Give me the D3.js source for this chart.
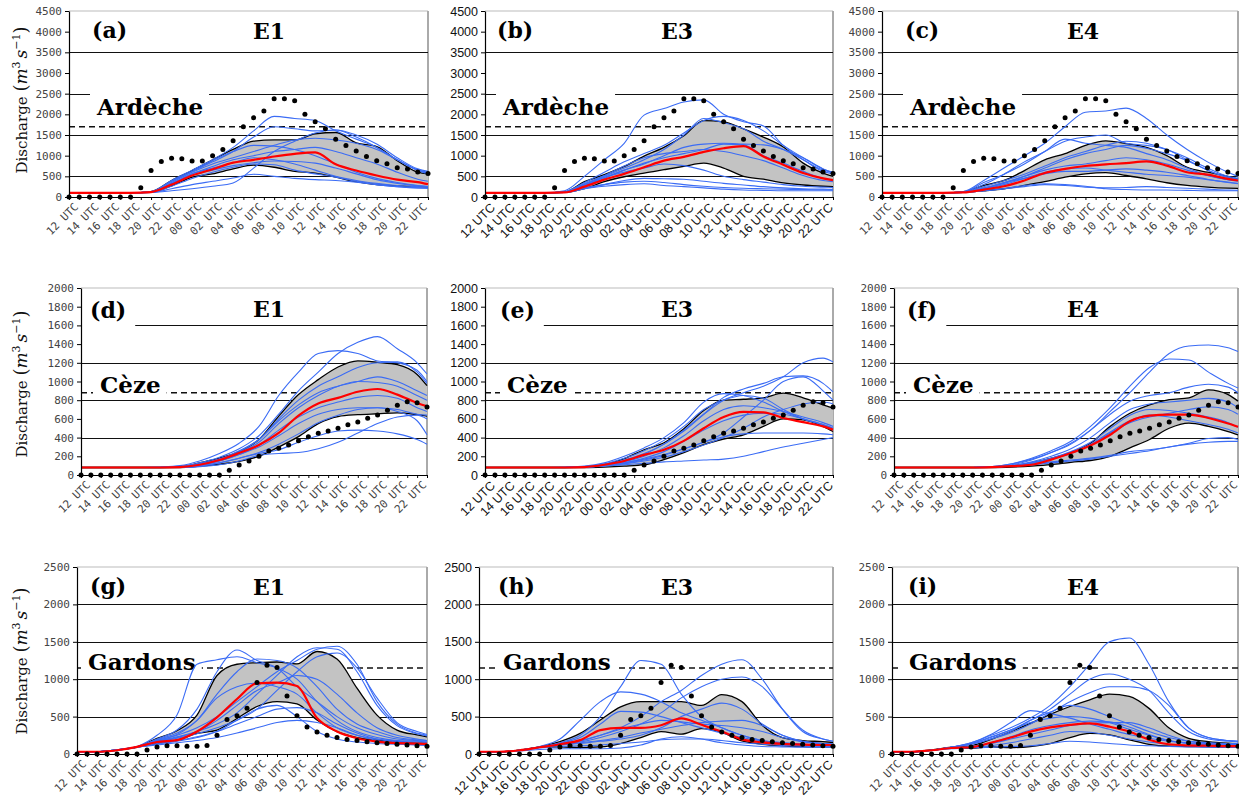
<!DOCTYPE html>
<html>
<head>
<meta charset="utf-8">
<script src="https://cdn.jsdelivr.net/npm/d3@7"></script>
<style>
  body { margin: 0; background: #fff; }
  svg { display: block; }
</style>
</head>
<body>
<div id="root"></div>
<script>
// hour index 0 = 12 UTC day 1, 35 = 23 UTC day 2
const tickLabels = ["12 UTC","14 UTC","16 UTC","18 UTC","20 UTC","22 UTC","00 UTC","02 UTC","04 UTC",
  "06 UTC","08 UTC","10 UTC","12 UTC","14 UTC","16 UTC","18 UTC","20 UTC","22 UTC"];
const simHours = [0,2,4,6,8,10,12,14,16,18,20,22,24,26,28,30,32,34,35];

// observed discharge, hourly
const obsArdeche = [0,0,0,0,0,0,0,225,640,860,940,925,870,870,1000,1150,1360,1700,1920,2080,2380,2380,2330,2000,1820,1650,1400,1245,1110,980,875,805,710,675,605,570];
const obsCeze = [0,0,0,0,0,0,0,0,0,0,0,0,0,0,0,50,107,150,200,257,285,321,367,410,446,470,499,538,567,606,642,692,745,784,774,727];
const obsGardons = [0,0,0,0,0,0,0,55,95,110,110,105,105,115,250,460,510,610,955,1185,1155,775,510,360,295,250,220,195,180,165,150,140,130,120,110,105];

const yTicksArdeche = [0,500,1000,1500,2000,2500,3000,3500,4000,4500];
const yTicksCeze = [0,200,400,600,800,1000,1200,1400,1600,1800,2000];
const yTicksGardons = [0,500,1000,1500,2000,2500];
const gridArdeche = [500,1500,2500,3500];
const gridCeze = [400,800,1200,1600];
const gridGardons = [500,1000,1500,2000];

// (a) E1 Ardeche
const aHi  = [100,100,100,100,130,400,640,900,1150,1350,1380,1380,1530,1560,1310,1220,880,600,560];
const aLo  = [100,100,100,100,110,270,480,560,680,770,720,620,580,480,370,300,270,250,240];
const aMed = [100,100,100,100,120,300,520,670,830,900,980,1045,1080,790,640,520,420,360,310];
const aMembers = [
  [100,100,100,100,130,400,650,900,1200,1600,1950,1900,1850,1600,1400,1200,900,650,600],
  [100,100,100,100,130,380,620,850,1100,1450,1700,1650,1600,1620,1500,1280,950,680,620],
  [100,100,100,100,110,150,200,260,340,700,1100,1350,1550,1620,1450,1200,900,650,560],
  [100,100,100,100,130,380,620,880,1100,1250,1230,1150,1000,800,600,450,350,280,250],
  [100,100,100,100,120,320,560,700,830,950,900,800,650,500,400,330,280,250,240],
  [100,100,100,100,110,200,300,380,460,550,500,450,420,400,360,300,250,220,210],
  [100,100,100,100,120,350,600,800,950,1100,1250,1380,1420,1380,1300,1150,900,650,580],
  [100,100,100,100,120,330,560,740,900,1000,1100,1150,1200,1100,950,800,600,430,380],
  [100,100,100,100,110,260,450,600,720,800,780,650,560,480,380,300,250,220,210],
  [100,100,100,100,120,300,520,650,760,830,870,860,820,700,560,420,330,270,250]
];

// (b) E3 Ardeche
const bHi  = [100,100,100,100,120,370,540,740,990,1200,1480,1850,1820,1650,1450,1210,820,580,500];
const bLo  = [100,100,100,100,110,200,370,490,580,660,740,820,700,500,430,340,290,260,250];
const bMed = [100,100,100,100,110,250,420,560,720,880,970,1090,1180,1230,980,780,580,450,410];
const bMembers = [
  [100,100,100,100,150,500,900,1300,1980,2140,2300,2350,2000,1820,1720,1250,900,650,600],
  [100,100,100,100,130,350,600,850,1050,1250,1550,1850,1950,1850,1600,1250,950,680,600],
  [100,100,100,100,120,300,500,700,900,1150,1500,1900,1800,1650,1350,1150,900,620,560],
  [100,100,100,100,120,280,450,650,800,1000,1200,1280,1300,1280,1260,1150,950,680,580],
  [100,100,100,100,120,320,520,750,950,1050,1100,1150,1100,1000,880,700,520,400,370],
  [100,100,100,100,110,200,300,400,450,440,430,380,330,290,250,220,200,190,185],
  [100,100,100,100,110,200,260,300,320,280,250,220,190,170,160,150,150,150,150],
  [100,100,100,100,120,300,480,600,700,800,760,650,500,420,360,300,260,240,230],
  [100,100,100,100,120,280,470,650,820,950,1050,1150,1280,1260,1000,820,620,450,400],
  [100,100,100,100,110,220,300,360,380,350,300,260,230,210,200,190,180,175,170]
];

// (c) E4 Ardeche
const cHi  = [100,100,100,100,130,280,400,640,900,1050,1250,1360,1290,1200,1000,720,600,500,440];
const cLo  = [100,100,100,100,110,150,200,280,370,480,560,590,520,440,345,280,240,215,210];
const cMed = [100,100,100,100,110,180,260,400,580,680,750,790,820,860,760,600,540,440,400];
const cMembers = [
  [100,100,100,100,130,400,700,1000,1300,1700,2050,2080,2150,1900,1500,1150,850,600,500],
  [100,100,100,100,120,300,550,850,1100,1350,1450,1500,1300,1250,1150,900,650,480,430],
  [100,100,100,100,120,350,550,800,1100,1400,1300,1250,1200,1050,900,700,520,420,400],
  [100,100,100,100,120,250,400,550,750,950,1100,1250,1350,1300,1150,950,700,500,450],
  [100,100,100,100,110,200,350,500,650,750,800,880,950,900,800,650,520,420,380],
  [100,100,100,100,110,150,200,250,300,280,240,220,230,250,230,210,190,170,165],
  [100,100,100,100,110,150,200,280,320,300,260,200,180,170,170,160,150,150,150],
  [100,100,100,100,110,180,300,450,600,680,700,650,600,550,520,480,420,360,330],
  [100,100,100,100,110,200,330,500,700,900,1050,1150,1250,1180,1050,880,650,470,420],
  [100,100,100,100,120,220,350,450,560,620,620,650,680,650,600,520,430,350,320]
];

// (d) E1 Ceze
const dHi  = [80,80,80,80,80,85,130,180,250,380,630,860,1020,1155,1220,1205,1180,1075,955];
const dLo  = [80,80,80,80,80,80,95,115,145,200,300,410,550,625,645,655,665,645,630];
const dMed = [80,80,80,80,80,85,110,160,235,320,450,635,765,825,890,920,860,770,735];
const dMembers = [
  [80,80,80,80,80,90,130,190,280,420,650,900,1100,1300,1420,1480,1350,1200,1080],
  [80,80,80,80,85,100,150,230,340,520,850,1100,1300,1330,1300,1220,1200,1120,1000],
  [80,80,80,80,80,90,120,170,250,380,600,800,950,1050,1150,1200,1210,1100,980],
  [80,80,80,80,80,85,110,160,240,350,550,720,850,950,1000,990,950,850,800],
  [80,80,80,80,80,85,105,150,220,320,480,620,720,780,830,850,820,720,680],
  [80,80,80,80,80,85,100,130,180,230,270,350,420,470,480,470,440,380,330],
  [80,80,80,80,80,80,90,110,150,210,230,240,280,350,450,550,620,640,600],
  [80,80,80,80,80,85,105,150,220,300,420,550,650,700,720,720,700,650,640],
  [80,80,80,80,80,85,110,170,260,380,580,750,880,950,1000,1050,1000,900,850],
  [80,80,80,80,80,80,95,130,180,240,330,440,560,640,700,720,680,580,430]
];

// (e) E3 Ceze
const eHi  = [80,80,80,80,80,85,110,175,270,345,495,690,800,810,825,875,825,750,715];
const eLo  = [80,80,80,80,80,80,85,95,110,165,240,325,385,430,520,600,590,520,465];
const eMed = [80,80,80,80,80,85,110,150,215,270,365,500,620,675,670,610,565,520,485];
const eMembers = [
  [80,80,80,80,80,90,110,160,230,330,480,650,800,880,950,1050,1200,1250,1210],
  [80,80,80,80,80,85,110,150,220,330,470,650,830,920,980,1050,1060,980,890],
  [80,80,80,80,85,95,130,200,290,400,560,780,870,850,780,680,600,540,500],
  [80,80,80,80,80,85,100,120,150,190,250,320,400,500,620,700,760,780,760],
  [80,80,80,80,80,85,95,110,125,140,150,160,170,200,250,300,340,380,400],
  [80,80,80,80,80,85,100,130,170,220,280,350,410,440,450,450,450,440,430],
  [80,80,80,80,80,90,120,180,260,370,520,700,800,850,820,700,600,530,480],
  [80,80,80,80,80,85,100,120,160,210,280,350,450,620,800,1000,1050,900,800],
  [80,80,80,80,80,85,105,140,200,290,420,580,700,740,720,680,620,560,520],
  [80,80,80,80,80,85,100,130,180,250,360,480,580,640,660,650,600,540,500]
];

// (f) E4 Ceze
const fHi  = [80,80,80,80,80,85,95,130,180,240,340,520,660,750,805,825,910,860,790];
const fLo  = [80,80,80,80,80,80,85,95,110,135,155,200,290,380,500,555,520,465,430];
const fMed = [80,80,80,80,80,85,95,110,165,235,315,430,575,635,645,645,610,550,515];
const fMembers = [
  [80,80,80,80,80,90,120,170,240,330,480,680,880,1100,1300,1380,1390,1360,1320],
  [80,80,80,80,80,90,120,180,260,360,520,720,950,1150,1240,1230,1100,980,930],
  [80,80,80,80,80,85,110,160,240,340,480,650,790,850,880,940,970,940,880],
  [80,80,80,80,80,85,100,130,180,250,350,500,640,700,690,660,620,560,510],
  [80,80,80,80,80,85,100,120,140,160,180,210,250,270,300,340,390,400,380],
  [80,80,80,80,80,85,95,110,130,150,170,200,230,260,300,330,350,360,360],
  [80,80,80,80,80,85,100,130,170,230,320,450,560,620,660,700,730,700,650],
  [80,80,80,80,80,85,100,140,200,280,400,560,700,760,780,800,820,780,720],
  [80,80,80,80,80,85,100,130,180,240,330,460,580,640,620,580,540,490,450]
];

// (g) E1 Gardons
const gHi  = [30,30,55,95,210,310,520,1050,1200,1220,1230,1205,1370,1270,880,520,320,255,230];
const gLo  = [30,30,50,90,140,185,275,320,475,635,700,670,455,300,220,185,165,145,145];
const gMed = [30,30,50,95,160,185,300,490,735,945,955,910,480,300,210,165,145,140,135];
const gMembers = [
  [30,30,55,100,250,520,1200,1260,1300,1220,1150,1000,700,450,300,220,180,170,160],
  [30,30,55,95,200,320,600,1100,1390,1250,1150,900,700,500,350,260,200,180,170],
  [30,30,55,95,180,250,350,500,700,900,1100,1250,1400,1440,1200,700,400,280,250],
  [30,30,55,95,170,230,300,400,550,800,1050,1300,1420,1400,1100,650,380,270,240],
  [30,30,55,95,190,280,450,800,1100,1270,1250,1150,900,600,400,300,220,190,180],
  [30,30,50,90,120,150,180,220,280,350,420,450,420,350,250,180,140,120,115],
  [30,30,50,90,130,170,220,300,450,600,650,500,300,200,160,140,130,125,120],
  [30,30,55,95,170,220,300,450,650,850,950,1050,1000,800,550,350,250,200,180],
  [30,30,55,95,180,260,450,750,900,950,900,800,550,350,250,200,170,160,150],
  [30,30,50,90,140,180,230,300,400,500,600,620,550,400,280,200,160,140,130],
  [30,30,55,95,160,210,270,350,450,600,850,1100,1300,1350,1150,750,420,300,260]
];

// (h) E3 Gardons
const hHi  = [30,30,50,95,165,275,455,630,700,700,700,650,795,700,385,220,180,165,155];
const hLo  = [30,30,50,90,95,85,95,140,220,300,265,340,290,175,130,110,100,95,95];
const hMed = [30,30,50,90,130,185,320,350,350,385,475,390,300,195,155,135,125,120,120];
const hMembers = [
  [30,30,50,90,150,250,500,900,1250,1200,800,500,350,250,180,150,130,120,115],
  [30,30,50,90,130,170,250,350,500,700,850,1050,1200,1260,1000,600,300,200,170],
  [30,30,50,90,130,160,220,300,400,550,750,900,1000,1030,900,600,320,200,170],
  [30,30,50,100,200,450,700,830,800,700,550,450,350,250,180,150,130,125,120],
  [30,30,50,90,120,140,170,200,250,350,500,600,680,600,400,250,170,140,130],
  [30,30,50,90,140,220,400,570,560,500,420,350,280,220,170,140,130,125,120],
  [30,30,50,80,100,110,120,140,160,190,200,200,180,150,130,115,105,100,100],
  [30,30,40,60,70,70,70,80,120,200,230,200,150,120,100,95,90,90,90],
  [30,30,50,90,120,150,180,220,280,330,380,420,440,450,380,250,170,140,130],
  [30,30,50,90,130,180,250,330,400,450,430,400,380,350,300,220,160,140,130]
];

// (i) E4 Gardons
const iHi  = [30,30,55,90,110,195,300,410,530,635,725,800,770,610,350,210,165,145,140];
const iLo  = [30,30,50,80,75,95,85,100,140,220,275,255,190,130,105,100,95,90,90];
const iMed = [30,30,50,80,90,150,220,300,355,390,410,365,300,190,130,115,110,105,105];
const iMembers = [
  [30,30,50,90,150,250,350,480,650,900,1200,1500,1550,1200,700,350,220,180,170],
  [30,30,50,90,140,230,320,450,600,800,1000,1070,1000,850,550,300,200,170,160],
  [30,30,50,90,130,200,280,400,550,700,820,900,900,850,650,350,220,180,170],
  [30,30,50,90,150,260,420,580,540,480,400,330,260,210,170,150,140,130,130],
  [30,30,50,90,130,200,300,450,560,650,600,500,400,300,220,170,150,140,140],
  [30,30,50,70,80,90,100,110,140,170,160,140,120,110,100,95,90,90,90],
  [30,30,50,80,90,110,150,200,250,300,290,250,200,160,130,110,100,95,95],
  [30,30,50,80,100,140,200,260,320,380,410,420,420,350,250,170,140,130,125],
  [30,30,50,80,100,150,230,320,380,420,440,430,360,260,180,140,120,115,110],
  [30,30,50,90,140,220,320,420,480,500,480,420,330,250,180,140,125,120,115]
];

const rows = [
  { top: 11, bottom: 197, ymax: 4500, ticks: yTicksArdeche, grid: gridArdeche, threshold: 1700,
    river: "Ardèche", obs: obsArdeche, letterY: 38, titleY: 39, riverY: 115, yTitleY: 100 },
  { top: 288, bottom: 475, ymax: 2000, ticks: yTicksCeze, grid: gridCeze, threshold: 880,
    river: "Cèze", obs: obsCeze, letterY: 318, titleY: 317, riverY: 393, yTitleY: 384 },
  { top: 567, bottom: 754, ymax: 2500, ticks: yTicksGardons, grid: gridGardons, threshold: 1150,
    river: "Gardons", obs: obsGardons, letterY: 594, titleY: 595, riverY: 670, yTitleY: 661 }
];

const panels = [
  { row: 0, letter: "(a)", run: "E1", left: 69, right: 428, lx: 92, rx: 97, tx: 269, sans: false, hi: aHi, lo: aLo, med: aMed, members: aMembers },
  { row: 0, letter: "(b)", run: "E3", left: 485, right: 833, lx: 497, rx: 503, tx: 677, sans: true, hi: bHi, lo: bLo, med: bMed, members: bMembers },
  { row: 0, letter: "(c)", run: "E4", left: 882, right: 1238, lx: 905, rx: 910, tx: 1083, sans: false, hi: cHi, lo: cLo, med: cMed, members: cMembers },
  { row: 1, letter: "(d)", run: "E1", left: 81, right: 427, lx: 90, rx: 100, tx: 269, sans: false, hi: dHi, lo: dLo, med: dMed, members: dMembers },
  { row: 1, letter: "(e)", run: "E3", left: 485, right: 833, lx: 500, rx: 507, tx: 677, sans: true, hi: eHi, lo: eLo, med: eMed, members: eMembers },
  { row: 1, letter: "(f)", run: "E4", left: 894, right: 1238, lx: 907, rx: 913, tx: 1083, sans: false, hi: fHi, lo: fLo, med: fMed, members: fMembers },
  { row: 2, letter: "(g)", run: "E1", left: 77, right: 427, lx: 90, rx: 88, tx: 269, sans: false, hi: gHi, lo: gLo, med: gMed, members: gMembers },
  { row: 2, letter: "(h)", run: "E3", left: 479, right: 833, lx: 498, rx: 503, tx: 677, sans: true, hi: hHi, lo: hLo, med: hMed, members: hMembers },
  { row: 2, letter: "(i)", run: "E4", left: 892, right: 1238, lx: 908, rx: 909, tx: 1083, sans: false, hi: iHi, lo: iLo, med: iMed, members: iMembers }
];

const svg = d3.select("#root").append("svg")
  .attr("width", 1239)
  .attr("height", 797);

const serif = "DejaVu Serif";

const drawPanel = (p) => {
  const r = rows[p.row];
  const x = d3.scaleLinear().domain([0, 35]).range([p.left, p.right]);
  const y = d3.scaleLinear().domain([0, r.ymax]).range([r.bottom, r.top]);
  const g = svg.append("g");

  // frame
  g.append("line").attr("x1", p.left).attr("x2", p.right).attr("y1", r.top).attr("y2", r.top)
    .attr("stroke", "#bbb").attr("stroke-width", 1);
  g.append("line").attr("x1", p.right).attr("x2", p.right).attr("y1", r.top).attr("y2", r.bottom)
    .attr("stroke", "#aaa").attr("stroke-width", 2);

  // gridlines
  g.selectAll(".grid").data(r.grid).enter().append("line")
    .attr("x1", p.left).attr("x2", p.right)
    .attr("y1", d => Math.round(y(d)) + 0.5).attr("y2", d => Math.round(y(d)) + 0.5)
    .attr("stroke", "#111").attr("stroke-width", 1);

  // warning threshold
  g.append("line")
    .attr("x1", p.left).attr("x2", p.right)
    .attr("y1", y(r.threshold)).attr("y2", y(r.threshold))
    .attr("stroke", "#111").attr("stroke-width", 1.4).attr("stroke-dasharray", "6,4");

  // panel letter, with white box under it
  const letter = g.append("text").attr("x", p.lx).attr("y", r.letterY)
    .attr("font-family", serif).attr("font-weight", "bold").attr("font-size", 22)
    .text(p.letter);
  const lw = letter.node().getComputedTextLength();
  g.insert("rect", "text").attr("x", p.left + 1).attr("y", r.top + 1)
    .attr("width", p.lx + lw + 9 - p.left - 1).attr("height", r.letterY + 10 - r.top - 1)
    .attr("fill", "#fff");

  g.append("text").attr("x", p.tx).attr("y", r.titleY).attr("text-anchor", "middle")
    .attr("font-family", serif).attr("font-weight", "bold").attr("font-size", 22)
    .text(p.run);

  // river name box
  const river = g.append("text").attr("x", p.rx).attr("y", r.riverY)
    .attr("font-family", serif).attr("font-weight", "bold").attr("font-size", 23)
    .text(r.river);
  const rw = river.node().getComputedTextLength();
  g.insert("rect", "text:last-of-type").attr("x", p.rx - 7).attr("y", r.riverY - 24)
    .attr("width", rw + 13).attr("height", 28).attr("fill", "#fff");

  // ensemble envelope
  const idx = d3.range(simHours.length);
  const band = d3.area()
    .x(i => x(simHours[i]))
    .y0(i => y(p.lo[i]))
    .y1(i => y(p.hi[i]))
    .curve(d3.curveMonotoneX);
  g.append("path").datum(idx).attr("d", band).attr("fill", "#c3c3c3");

  const simLine = d3.line()
    .x((d, i) => x(simHours[i]))
    .y(d => y(d))
    .curve(d3.curveMonotoneX);

  [p.hi, p.lo].forEach(s => {
    g.append("path").datum(s).attr("d", simLine)
      .attr("fill", "none").attr("stroke", "#000").attr("stroke-width", 1.3);
  });

  g.selectAll(".member").data(p.members).enter().append("path")
    .attr("d", simLine)
    .attr("fill", "none").attr("stroke", "#3b6cf5").attr("stroke-width", 1.1);

  g.append("path").datum(p.med).attr("d", simLine)
    .attr("fill", "none").attr("stroke", "#f00").attr("stroke-width", 2.2);

  // axes
  const tickFont = p.sans ? "Liberation Sans" : "DejaVu Sans Mono";
  const yAxis = g.append("g").attr("transform", "translate(" + p.left + ",0)")
    .call(d3.axisLeft(y).tickValues(r.ticks).tickFormat(d3.format("d"))
      .tickSize(4).tickSizeOuter(0).tickPadding(3));
  yAxis.selectAll("text").attr("font-family", tickFont)
    .attr("font-size", p.sans ? 12.5 : 11).attr("fill", p.sans ? "#111" : "#444");
  yAxis.select(".domain").attr("stroke", "#000").attr("stroke-width", 1.2);

  const xAxis = g.append("g").attr("transform", "translate(0," + r.bottom + ")")
    .call(d3.axisBottom(x).tickValues(d3.range(36)).tickSize(3).tickSizeOuter(0)
      .tickFormat(i => (i % 2 === 0 && i < 35) ? tickLabels[i / 2] : ""));
  xAxis.select(".domain").attr("stroke", "#000").attr("stroke-width", 1.2);
  xAxis.selectAll("text")
    .attr("font-family", tickFont)
    .attr("font-size", p.sans ? 12.5 : 11)
    .attr("fill", p.sans ? "#111" : "#444")
    .attr("text-anchor", "end")
    .attr("y", 0).attr("dy", "0.71em")
    .attr("transform", "translate(4,5) rotate(-45)");

  // observations
  g.selectAll(".obs").data(r.obs).enter().append("circle")
    .attr("cx", (d, i) => x(i))
    .attr("cy", d => y(d))
    .attr("r", 2.5)
    .attr("fill", "#000");

  // y title, left column only
  if (p.left < 100) {
    const t = svg.append("text")
      .attr("transform", "translate(27," + r.yTitleY + ") rotate(-90)")
      .attr("text-anchor", "middle")
      .attr("font-family", serif).attr("font-size", 15).attr("fill", "#111");
    t.append("tspan").text("Discharge ");
    t.append("tspan").attr("font-size", 18).text("(");
    t.append("tspan").attr("font-style", "italic").attr("font-size", 17).text("m");
    t.append("tspan").attr("font-size", 11).attr("dy", -7).text("3");
    t.append("tspan").attr("font-style", "italic").attr("font-size", 17).attr("dy", 7).attr("dx", 3).text("s");
    t.append("tspan").attr("font-size", 11).attr("dy", -7).text("−1");
    t.append("tspan").attr("font-size", 18).attr("dy", 7).text(")");
  }
};

panels.forEach(drawPanel);
</script>
</body>
</html>
